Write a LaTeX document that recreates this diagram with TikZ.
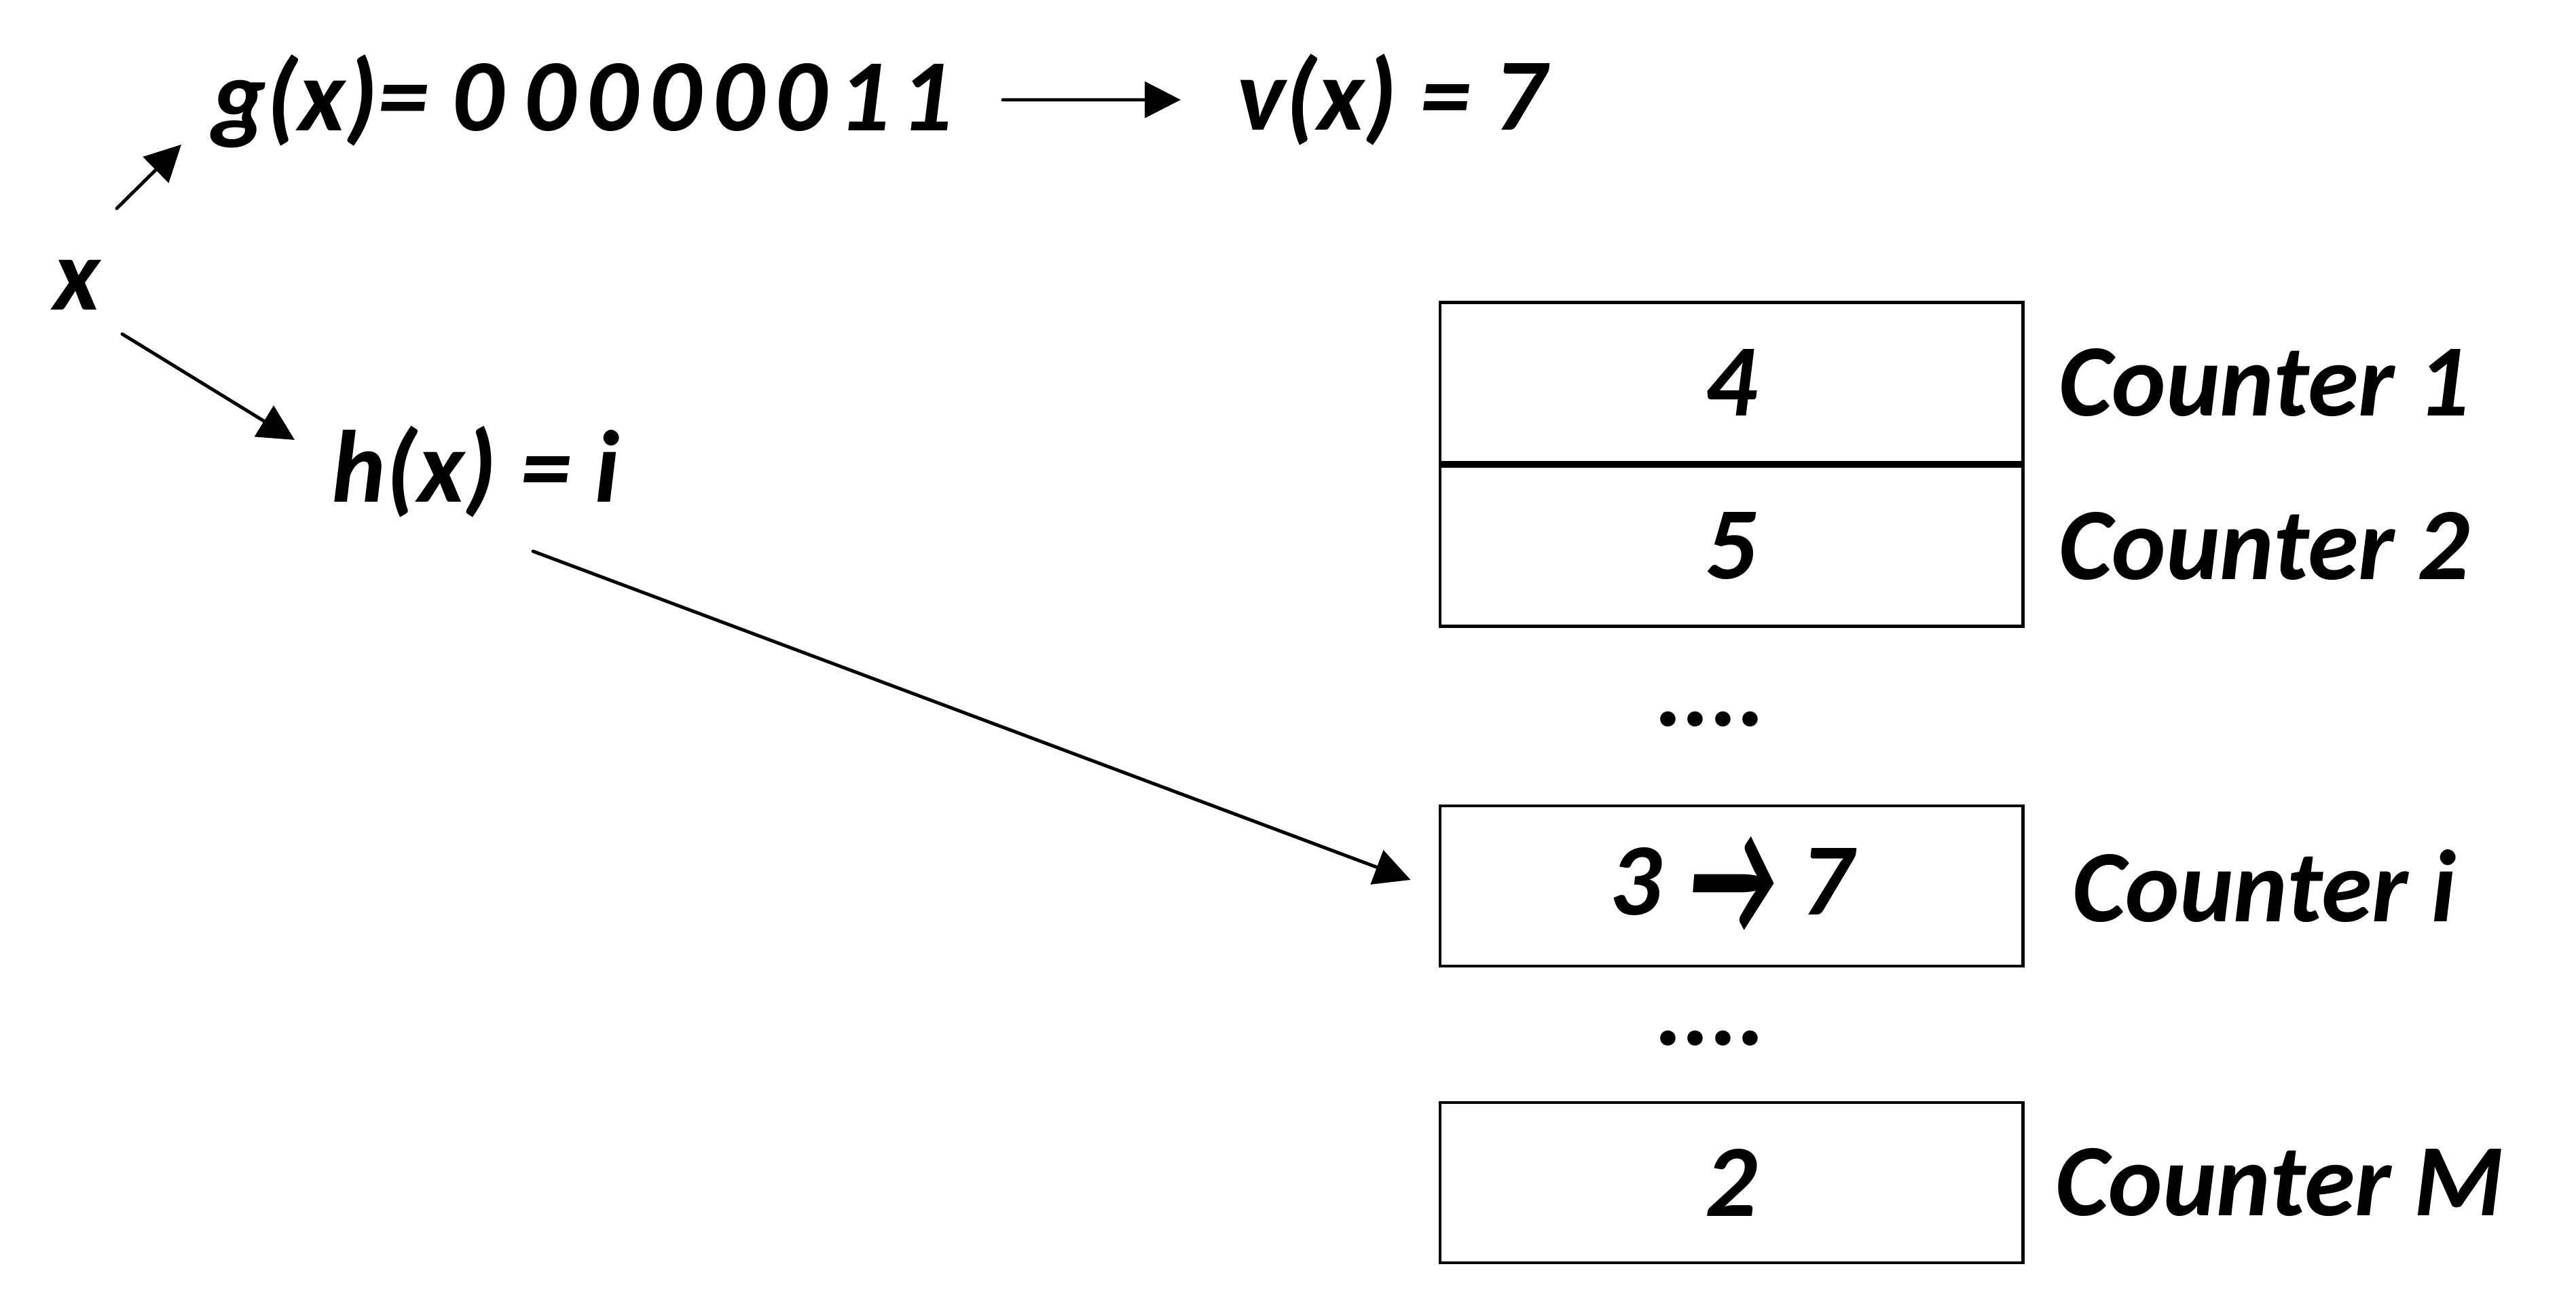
\documentclass[tikz,border=0pt]{standalone}
\usepackage{fontspec}
\setmainfont{Carlito}
\usetikzlibrary{positioning, arrows.meta}
\newcommand{\bitgap}{\kern.16cm}
\newcommand{\bigarrow}{\raisebox{-0.2em}{\scalebox{1}[1.65]{→}}}
\tikzset{
	bigtext/.style={font=\fontsize{43}{50}\selectfont\bfseries\itshape, inner sep=0pt}
}
\tikzset{
	counterbox/.style={bigtext, draw, line width=1.4pt, minimum width=8.58cm, minimum height=2.36cm}
}
\tikzset{
	arr/.style={line width=1.4pt, line cap=round, -{Triangle[length=5.3mm, width=5.3mm]}}
}

\begin{document}
\begin{tikzpicture}
\useasboundingbox (0,0) rectangle (37.94,19.06);

\coordinate (pX) at (0.78,14.49);
\coordinate (pG) at (3.12,17.13);
\coordinate (pV) at (18.22,17.14);
\coordinate (pH) at (4.88,11.66);

\node[bigtext, anchor=base west] (x) at (pX) {x};
\node[bigtext, anchor=base west] (g) at (pG) {g(x)= 0\kern.29cm 0\bitgap 0\bitgap 0\bitgap 0\bitgap 0\bitgap 1\bitgap 1};
\node[bigtext, anchor=base west] (v) at (pV) {v(x) = 7};
\node[bigtext, anchor=base west] (h) at (pH) {h(x) = i};

\node[counterbox] (c1) at (25.5,13.425) {4};
\node[counterbox, below=0pt of c1] (c2) {5};
\node[counterbox] (ci) at (25.5,6.01) {3 \bigarrow\ 7};
\node[counterbox] (cm) at (25.5,1.64) {2};

\node[bigtext, anchor=base] (d1) at (25.2,8.36) {....};
\node[bigtext, anchor=base] (d2) at (25.2,3.66) {....};

\node[bigtext, right=0.5cm of c1] (l1) {Counter 1};
\node[bigtext, right=0.5cm of c2] (l2) {Counter 2};
\node[bigtext, right=0.7cm of ci] (li) {Counter i};
\node[bigtext, right=0.45cm of cm] (lm) {Counter M};

\draw[arr] ([shift={(0.94,1.50)}]x.base west) -- ([shift={(-0.45,-0.20)}]g.base west);
\draw[arr] ([shift={(1.02,-0.35)}]x.base west) -- ([shift={(-0.54,0.92)}]h.base west);
\draw[arr] ([shift={(11.65,0.46)}]g.base west) -- ([shift={(-0.83,0.45)}]v.base west);
\draw[arr] ([shift={(2.97,-0.72)}]h.base west) -- ([shift={(-0.41,0.09)}]ci.west);

\end{tikzpicture}
\end{document}
